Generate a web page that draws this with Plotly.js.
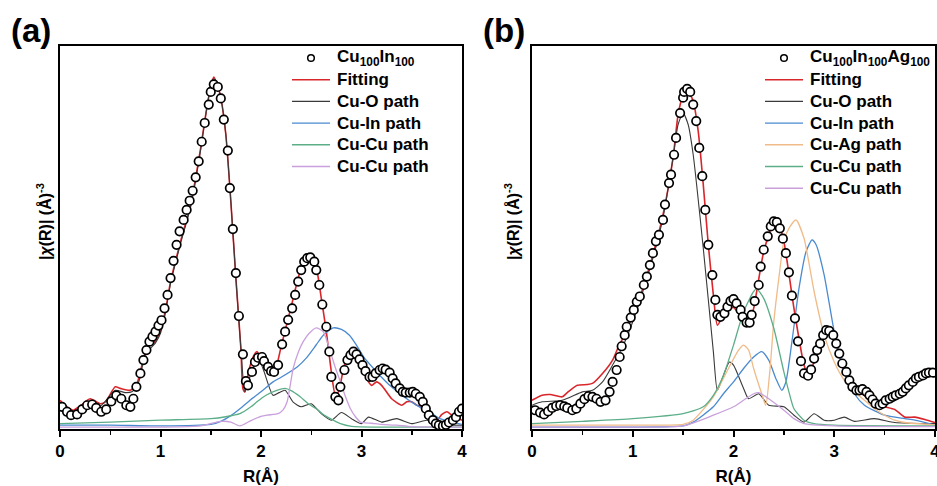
<!DOCTYPE html>
<html>
<head>
<meta charset="utf-8">
<script src="https://cdn.plot.ly/plotly-3.0.1.min.js"></script>
<style>
  html, body { margin: 0; padding: 0; background: #ffffff; }
  #chart { width: 937px; height: 486px; }
</style>
</head>
<body>
<div id="chart"></div>
<script>
// ---------- Panel (a): Cu100In100 ----------
const aDataR = [0.02,0.07,0.11,0.17,0.22,0.27,0.32,0.36,0.41,0.46,0.51,0.56,0.61,0.66,0.70,0.73,0.76,0.80,0.83,0.86,0.89,0.92,0.95,0.98,1.01,1.04,1.07,1.10,1.13,1.16,1.19,1.23,1.26,1.29,1.32,1.35,1.38,1.41,1.44,1.48,1.50,1.53,1.57,1.60,1.63,1.67,1.69,1.72,1.75,1.78,1.82,1.85,1.87,1.91,1.94,1.97,2.01,2.03,2.07,2.10,2.13,2.17,2.21,2.24,2.27,2.31,2.34,2.37,2.40,2.43,2.46,2.49,2.53,2.55,2.58,2.61,2.65,2.68,2.70,2.74,2.77,2.79,2.83,2.86,2.89,2.92,2.95,2.98,3.01,3.04,3.08,3.11,3.14,3.18,3.21,3.24,3.28,3.31,3.34,3.38,3.41,3.44,3.48,3.51,3.54,3.58,3.61,3.64,3.67,3.71,3.74,3.77,3.81,3.84,3.87,3.91,3.94,3.97,4.00];
const aDataChi = [0.58,0.45,0.36,0.38,0.51,0.62,0.64,0.55,0.45,0.51,0.72,0.88,0.79,0.62,0.58,0.79,1.10,1.45,1.80,2.06,2.28,2.41,2.54,2.70,2.84,3.15,3.50,3.94,4.39,4.81,5.16,5.46,5.72,5.96,6.22,6.57,6.99,7.50,7.99,8.47,8.80,9.00,8.93,8.63,8.08,7.27,6.29,5.22,4.07,2.95,1.95,1.25,1.14,1.49,1.75,1.86,1.88,1.77,1.62,1.51,1.49,1.67,2.21,2.54,2.85,3.15,3.50,3.85,4.15,4.37,4.46,4.48,4.37,4.15,3.76,3.25,2.67,2.02,1.36,0.84,0.75,1.10,1.54,1.80,1.93,2.02,1.95,1.82,1.67,1.51,1.36,1.36,1.45,1.54,1.58,1.55,1.47,1.32,1.19,1.06,0.97,0.95,0.95,0.97,0.92,0.84,0.71,0.53,0.36,0.23,0.14,0.10,0.08,0.11,0.17,0.23,0.31,0.45,0.53];

const aFitR = [0.00,0.05,0.13,0.20,0.30,0.40,0.45,0.55,0.60,0.70,0.76,0.80,0.85,0.90,0.95,1.00,1.05,1.10,1.20,1.30,1.40,1.45,1.50,1.53,1.57,1.60,1.65,1.70,1.75,1.80,1.82,1.84,1.88,1.93,1.96,2.00,2.05,2.10,2.15,2.20,2.30,2.40,2.48,2.55,2.60,2.65,2.70,2.74,2.77,2.83,2.90,2.95,3.00,3.05,3.10,3.15,3.20,3.30,3.40,3.45,3.50,3.55,3.60,3.70,3.75,3.80,3.85,3.90,4.00];
const aFit = [0.75,0.62,0.49,0.60,0.79,0.66,0.70,1.10,1.06,1.01,1.14,1.50,2.00,2.20,2.30,2.58,3.10,3.85,4.90,5.86,7.34,8.21,8.95,9.19,8.95,8.65,7.69,5.94,3.94,2.10,1.06,0.97,1.54,1.93,2.02,1.84,1.58,1.49,1.62,2.15,3.19,4.20,4.50,4.20,3.41,2.54,1.49,0.88,0.97,1.67,2.10,2.10,1.67,1.32,1.14,1.23,1.14,0.79,0.62,0.71,0.71,0.62,0.58,0.27,0.23,0.38,0.45,0.36,0.23];

const aCuOR = [0.00,0.13,0.30,0.40,0.55,0.65,0.72,0.78,0.85,0.95,1.00,1.05,1.10,1.20,1.30,1.40,1.45,1.50,1.53,1.57,1.60,1.65,1.70,1.75,1.80,1.84,1.90,1.97,2.03,2.12,2.18,2.24,2.32,2.40,2.50,2.60,2.70,2.80,2.90,3.00,3.07,3.20,3.35,3.50,3.65,3.80,4.00];
const aCuO = [0.66,0.45,0.72,0.60,1.01,0.95,0.98,1.20,1.95,2.25,2.50,3.05,3.80,4.85,5.80,7.30,8.20,8.95,9.15,8.95,8.65,7.69,5.94,3.94,2.10,0.97,1.45,1.88,1.50,0.88,0.95,1.01,0.70,0.58,0.66,0.40,0.23,0.43,0.27,0.14,0.31,0.18,0.27,0.14,0.23,0.11,0.10];

const aCuInR = [0.00,0.50,1.00,1.50,1.60,1.70,1.80,1.90,2.00,2.12,2.20,2.36,2.45,2.55,2.62,2.72,2.80,2.88,2.95,3.03,3.12,3.20,3.28,3.37,3.45,3.53,3.61,3.70,3.78,3.90,4.00];
const aCuIn = [0.10,0.10,0.08,0.12,0.20,0.35,0.55,0.77,0.97,1.23,1.35,1.62,1.85,2.20,2.45,2.64,2.60,2.45,2.19,1.85,1.58,1.35,1.14,0.95,0.79,0.65,0.53,0.40,0.27,0.18,0.12];

const aCuCu1R = [0.00,0.50,1.00,1.50,1.65,1.79,1.90,1.96,2.05,2.15,2.24,2.30,2.39,2.47,2.55,2.62,2.69,2.79,2.90,3.20,4.00];
const aCuCu1 = [0.14,0.18,0.23,0.27,0.32,0.40,0.58,0.71,0.88,1.00,1.06,1.00,0.84,0.66,0.53,0.38,0.27,0.14,0.07,0.05,0.05];

const aCuCu2R = [0.00,0.50,1.00,1.40,1.60,1.70,1.79,1.90,2.00,2.06,2.12,2.17,2.22,2.26,2.32,2.37,2.42,2.48,2.55,2.62,2.69,2.74,2.79,2.84,2.89,2.94,2.99,3.10,3.20,3.35,3.50,4.00];
const aCuCu2 = [0.05,0.05,0.05,0.08,0.20,0.18,0.08,0.22,0.33,0.36,0.38,0.40,0.50,0.71,1.58,2.00,2.28,2.50,2.64,2.54,2.02,1.60,1.23,0.85,0.53,0.32,0.18,0.15,0.12,0.10,0.06,0.05];

// ---------- Panel (b): Cu100In100Ag100 ----------
const bDataR = [0.03,0.08,0.12,0.16,0.20,0.24,0.28,0.32,0.35,0.40,0.44,0.48,0.52,0.56,0.60,0.64,0.68,0.73,0.77,0.80,0.84,0.87,0.89,0.92,0.94,0.98,1.01,1.04,1.07,1.11,1.14,1.17,1.20,1.23,1.26,1.30,1.32,1.36,1.38,1.41,1.43,1.47,1.50,1.51,1.54,1.57,1.60,1.63,1.66,1.69,1.72,1.75,1.79,1.82,1.84,1.87,1.91,1.94,1.97,2.00,2.03,2.07,2.09,2.13,2.16,2.18,2.21,2.25,2.27,2.30,2.34,2.37,2.40,2.43,2.46,2.49,2.52,2.55,2.58,2.61,2.64,2.67,2.70,2.74,2.77,2.80,2.83,2.86,2.89,2.92,2.95,2.99,3.02,3.05,3.08,3.12,3.15,3.18,3.22,3.25,3.28,3.32,3.35,3.38,3.41,3.45,3.48,3.51,3.55,3.58,3.61,3.65,3.68,3.71,3.74,3.78,3.81,3.84,3.88,3.91,3.94,3.98];
const bDataChi = [0.49,0.43,0.38,0.46,0.55,0.60,0.62,0.59,0.55,0.49,0.53,0.66,0.78,0.86,0.84,0.79,0.71,0.75,0.97,1.23,1.54,1.88,2.16,2.45,2.67,2.91,3.11,3.32,3.46,3.76,3.98,4.28,4.59,4.90,5.07,5.46,5.86,6.42,6.64,7.16,7.60,8.25,8.65,8.80,8.88,8.80,8.47,8.04,7.34,6.60,5.72,4.81,4.02,3.37,2.98,2.93,3.02,3.19,3.34,3.39,3.28,3.11,2.93,2.78,2.78,2.98,3.34,3.76,4.24,4.68,5.03,5.29,5.42,5.40,5.24,4.97,4.59,4.09,3.48,2.89,2.29,1.77,1.45,1.39,1.55,1.84,2.06,2.23,2.45,2.58,2.56,2.45,2.23,1.97,1.71,1.49,1.27,1.10,1.01,1.01,1.04,0.97,0.88,0.77,0.66,0.62,0.66,0.75,0.79,0.84,0.88,0.92,0.97,1.06,1.14,1.23,1.32,1.36,1.40,1.45,1.47,1.47];

const bFitR = [0.00,0.10,0.18,0.30,0.35,0.45,0.55,0.60,0.70,0.80,0.85,0.90,1.00,1.10,1.20,1.30,1.40,1.45,1.50,1.53,1.57,1.60,1.65,1.70,1.75,1.80,1.84,1.90,1.95,2.00,2.05,2.10,2.15,2.20,2.30,2.40,2.45,2.50,2.60,2.70,2.74,2.80,2.90,2.95,3.00,3.10,3.20,3.30,3.40,3.50,3.60,3.70,3.80,3.90,4.00];
const bFit = [0.75,0.88,0.90,0.84,0.95,1.14,1.16,1.19,1.45,1.80,2.10,2.36,2.98,3.67,4.55,5.59,7.08,8.21,8.73,8.87,8.73,8.56,7.77,6.38,4.81,3.50,2.71,2.98,3.15,3.17,3.02,2.84,2.76,3.15,4.63,5.38,5.33,4.90,3.15,1.67,1.42,1.75,2.50,2.56,2.41,1.49,1.01,0.88,0.66,0.58,0.51,0.31,0.31,0.25,0.17];

const bCuOR = [0.00,0.10,0.30,0.50,0.60,0.70,0.80,0.90,1.00,1.10,1.20,1.30,1.40,1.45,1.50,1.55,1.60,1.70,1.80,1.84,1.90,1.96,2.00,2.10,2.15,2.25,2.35,2.50,2.60,2.70,2.80,2.90,3.00,3.10,3.20,3.40,3.60,4.00];
const bCuO = [0.62,0.71,0.75,0.97,1.01,1.23,1.67,2.15,2.80,3.59,4.46,5.51,7.08,7.95,8.25,7.95,7.16,4.72,2.02,1.01,1.40,1.75,1.67,1.06,0.79,0.92,0.62,0.58,0.36,0.18,0.40,0.23,0.23,0.31,0.20,0.27,0.17,0.14];

const bCuInR = [0.00,0.50,1.00,1.50,1.60,1.80,1.90,2.00,2.10,2.20,2.28,2.35,2.42,2.48,2.52,2.58,2.65,2.72,2.78,2.82,2.90,3.00,3.10,3.20,3.30,3.50,3.70,3.80,4.00];
const bCuIn = [0.05,0.05,0.05,0.08,0.18,0.58,0.92,1.23,1.58,1.88,2.02,1.80,1.32,1.01,1.23,2.28,3.67,4.63,4.94,4.81,4.02,2.54,1.49,0.92,0.62,0.36,0.27,0.23,0.10];

const bCuAgR = [0.00,0.50,1.00,1.50,1.60,1.80,1.95,2.05,2.10,2.15,2.20,2.28,2.32,2.36,2.40,2.45,2.50,2.55,2.62,2.70,2.80,2.90,3.00,3.10,3.20,3.30,3.40,3.50,3.60,3.70,4.00];
const bCuAg = [0.10,0.10,0.10,0.12,0.23,0.84,1.58,2.06,2.19,2.06,1.58,0.92,0.62,1.49,2.80,3.94,4.90,5.24,5.46,4.98,3.59,2.45,1.75,1.27,0.97,0.75,0.53,0.36,0.23,0.17,0.11];

const bCuCu1R = [0.00,0.50,1.00,1.50,1.70,1.80,1.90,2.00,2.10,2.20,2.23,2.30,2.40,2.50,2.55,2.60,2.70,2.80,3.00,4.00];
const bCuCu1 = [0.14,0.20,0.27,0.40,0.58,0.88,1.40,2.19,3.06,3.59,3.66,3.41,2.63,1.49,0.97,0.53,0.23,0.14,0.10,0.08];

const bCuCu2R = [0.00,0.50,1.00,1.50,1.80,2.00,2.10,2.20,2.25,2.35,2.50,2.60,2.70,3.00,4.00];
const bCuCu2 = [0.05,0.05,0.05,0.08,0.36,0.58,0.75,0.92,0.95,0.79,0.49,0.27,0.14,0.08,0.06];

// ---------- Styling ----------
const FONT = 'Liberation Sans, Arial, Helvetica, sans-serif';
const COL = {
  fit: '#d9262b',
  cuo: '#3a3a3a',
  cuin: '#4a8ad0',
  cuag: '#f0bb88',
  cucu1: '#5cae88',
  cucu2: '#c9a0dc'
};

function pathTrace(x, y, name, color, width, xa, ya) {
  return {
    x: x, y: y, name: name, type: 'scatter', mode: 'lines',
    line: { color: color, width: width, shape: 'spline', smoothing: 0.6 },
    xaxis: xa, yaxis: ya, showlegend: false, hoverinfo: 'skip'
  };
}
function dataTrace(x, y, name, xa, ya) {
  return {
    x: x, y: y, name: name, type: 'scatter', mode: 'markers',
    marker: { symbol: 'circle', size: 8.5, color: '#ffffff', line: { color: '#000000', width: 1.7 } },
    xaxis: xa, yaxis: ya, showlegend: false, hoverinfo: 'skip'
  };
}

// each panel: sample first in its key, then the fitted paths in key order
const panelA = {
  sample: dataTrace(aDataR, aDataChi, 'Cu<sub>100</sub>In<sub>100</sub>', 'x', 'y'),
  paths: [
    pathTrace(aFitR, aFit, 'Fitting', COL.fit, 1.6, 'x', 'y'),
    pathTrace(aCuOR, aCuO, 'Cu-O path', COL.cuo, 1.1, 'x', 'y'),
    pathTrace(aCuInR, aCuIn, 'Cu-In path', COL.cuin, 1.3, 'x', 'y'),
    pathTrace(aCuCu1R, aCuCu1, 'Cu-Cu path', COL.cucu1, 1.3, 'x', 'y'),
    pathTrace(aCuCu2R, aCuCu2, 'Cu-Cu path', COL.cucu2, 1.3, 'x', 'y')
  ]
};
const panelB = {
  sample: dataTrace(bDataR, bDataChi, 'Cu<sub>100</sub>In<sub>100</sub>Ag<sub>100</sub>', 'x2', 'y2'),
  paths: [
    pathTrace(bFitR, bFit, 'Fitting', COL.fit, 1.6, 'x2', 'y2'),
    pathTrace(bCuOR, bCuO, 'Cu-O path', COL.cuo, 1.1, 'x2', 'y2'),
    pathTrace(bCuInR, bCuIn, 'Cu-In path', COL.cuin, 1.3, 'x2', 'y2'),
    pathTrace(bCuAgR, bCuAg, 'Cu-Ag path', COL.cuag, 1.3, 'x2', 'y2'),
    pathTrace(bCuCu1R, bCuCu1, 'Cu-Cu path', COL.cucu1, 1.3, 'x2', 'y2'),
    pathTrace(bCuCu2R, bCuCu2, 'Cu-Cu path', COL.cucu2, 1.3, 'x2', 'y2')
  ]
};

// lines underneath, open-circle samples on top
const traces = [...panelA.paths, panelA.sample, ...panelB.paths, panelB.sample];

const W = 937, H = 486;
const px = v => v / W;
const py = v => (H - v) / H;

function xAxis(domain, anchor) {
  return {
    domain: domain, anchor: anchor, range: [0, 4], dtick: 1, tick0: 0,
    ticks: 'outside', ticklen: 6, tickwidth: 2, tickcolor: '#000',
    minor: { dtick: 0.5, ticks: 'outside', ticklen: 4, tickwidth: 1.5, tickcolor: '#000' },
    showline: true, linewidth: 2, linecolor: '#000', mirror: true,
    showgrid: false, zeroline: false, fixedrange: true,
    ticklabeloverflow: 'allow',
    tickfont: { family: FONT, size: 17, color: '#000', weight: 'bold' },
    title: { text: 'R(Å)', font: { family: FONT, size: 17, color: '#000', weight: 'bold' }, standoff: 13 }
  };
}
function yAxis(anchor) {
  return {
    domain: [py(429), py(46)], range: [0, 10], anchor: anchor,
    showticklabels: false, ticks: '',
    showline: true, linewidth: 2, linecolor: '#000', mirror: true,
    showgrid: false, zeroline: false, fixedrange: true
  };
}

// hand-built key: line sample / open circle, then the label
const KEY_ROW0 = 58, KEY_STEP = 21.7, KEY_LINE = 38, KEY_GAP = 5;
const shapes = [];
const annotations = [];
function buildKey(panel, lineLeft) {
  const textX = lineLeft + KEY_LINE + KEY_GAP;
  const cx = lineLeft + KEY_LINE / 2;
  const r = 3.3;
  shapes.push({
    type: 'circle', xref: 'paper', yref: 'paper',
    x0: px(cx - r), x1: px(cx + r), y0: py(KEY_ROW0 + r), y1: py(KEY_ROW0 - r),
    line: { color: '#000', width: 1.5 }, fillcolor: '#fff'
  });
  annotations.push({
    text: panel.sample.name, xref: 'paper', yref: 'paper',
    x: px(textX), y: py(KEY_ROW0), xanchor: 'left', yanchor: 'middle', showarrow: false,
    font: { family: FONT, size: 17, color: '#000', weight: 'bold' }
  });
  panel.paths.forEach((t, i) => {
    const yy = KEY_ROW0 + (i + 1) * KEY_STEP;
    shapes.push({
      type: 'line', xref: 'paper', yref: 'paper',
      x0: px(lineLeft), x1: px(lineLeft + KEY_LINE), y0: py(yy), y1: py(yy),
      line: { color: t.line.color, width: 1.4 }
    });
    annotations.push({
      text: t.name, xref: 'paper', yref: 'paper',
      x: px(textX), y: py(yy), xanchor: 'left', yanchor: 'middle', showarrow: false,
      font: { family: FONT, size: 17, color: '#000', weight: 'bold' }
    });
  });
}
buildKey(panelA, 292);
buildKey(panelB, 765);

const yTitle = '|<i>χ</i>(R)| (Å)<sup>-3</sup>';
const titleFont = { family: FONT, size: 16, color: '#000', weight: 'bold' };
annotations.push(
  { text: '(a)', xref: 'paper', yref: 'paper', x: px(31), y: py(31),
    xanchor: 'center', yanchor: 'middle', showarrow: false,
    font: { family: FONT, size: 33, color: '#000', weight: 'bold' } },
  { text: '(b)', xref: 'paper', yref: 'paper', x: px(504), y: py(31),
    xanchor: 'center', yanchor: 'middle', showarrow: false,
    font: { family: FONT, size: 33, color: '#000', weight: 'bold' } },
  { text: yTitle, xref: 'paper', yref: 'paper', x: px(44), y: py(222),
    xanchor: 'center', yanchor: 'middle', textangle: -90, showarrow: false, font: titleFont },
  { text: yTitle, xref: 'paper', yref: 'paper', x: px(512), y: py(222),
    xanchor: 'center', yanchor: 'middle', textangle: -90, showarrow: false, font: titleFont }
);

const layout = {
  width: W, height: H,
  margin: { l: 0, r: 0, t: 0, b: 0 },
  paper_bgcolor: '#ffffff', plot_bgcolor: '#ffffff',
  showlegend: false,
  xaxis: xAxis([px(60), px(462)], 'y'),
  yaxis: yAxis('x'),
  xaxis2: xAxis([px(532), px(935)], 'y2'),
  yaxis2: yAxis('x2'),
  shapes: shapes,
  annotations: annotations
};

Plotly.newPlot('chart', traces, layout, { staticPlot: true, displayModeBar: false });
</script>
</body>
</html>
